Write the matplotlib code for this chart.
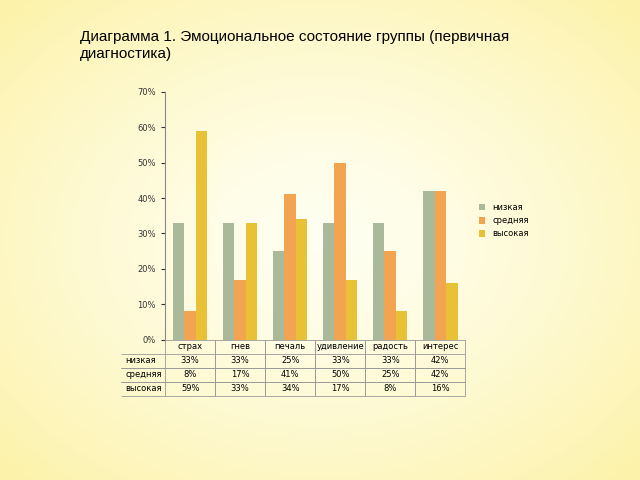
import matplotlib.pyplot as plt
import numpy as np

categories = ['страх', 'гнев', 'печаль', 'удивление', 'радость', 'интерес']
series = ['низкая', 'средняя', 'высокая']
low = [33, 33, 25, 33, 33, 42]
mid = [8, 17, 41, 50, 25, 42]
high = [59, 33, 34, 17, 8, 16]
colors = ['#a9b99a', '#f3a450', '#e8c136']

fig = plt.figure(figsize=(6.4, 4.8), dpi=100)

# pale yellow radial background
bg = fig.add_axes([0, 0, 1, 1])
yy, xx = np.mgrid[0:1:200j, 0:1:200j]
r = np.sqrt((xx - 0.5) ** 2 + (yy - 0.5) ** 2) / 0.707
c0 = np.array([1.0, 1.0, 0.95])
c1 = np.array([0.99, 0.95, 0.66])
img = c0 + (c1 - c0) * r[..., None] ** 1.3
bg.imshow(img, extent=[0, 1, 0, 1], aspect='auto')
bg.axis('off')

fig.text(0.125, 0.905, 'Диаграмма 1. Эмоциональное состояние группы (первичная\nдиагностика)',
         fontsize=11, family='Liberation Sans', va='center', linespacing=1.3)

ax = fig.add_axes([0.258, 0.292, 0.469, 0.517])
ax.set_facecolor('none')
x = np.arange(len(categories))
w = 0.23
for i, (vals, name) in enumerate(zip([low, mid, high], series)):
    ax.bar(x + (i - 1) * w, vals, w, color=colors[i], label=name)
ax.set_xlim(-0.5, len(categories) - 0.5)
ax.set_ylim(0, 70)
ax.set_yticks(range(0, 71, 10))
ax.set_yticklabels([f'{v}%' for v in range(0, 71, 10)], fontsize=6)
ax.set_xticks([])
for s in ['top', 'right', 'bottom']:
    ax.spines[s].set_visible(False)
ax.spines['left'].set_color('#888888')
ax.tick_params(axis='y', length=3, colors='#333333')

# data table below
cells = [[f'{v}%' for v in vals] for vals in [low, mid, high]]
tab = ax.table(cellText=cells, rowLabels=series, colLabels=categories,
               cellLoc='center', bbox=[0, -0.225, 1, 0.225])
tab.auto_set_font_size(False)
tab.set_fontsize(6)
for (rr, cc), cell in tab.get_celld().items():
    cell.set_edgecolor('#999999')
    cell.set_linewidth(0.6)
    cell.set_facecolor('none')
    if cc == -1:
        cell.visible_edges = 'TB'
    elif rr == 0:
        cell.visible_edges = 'TLR'
    else:
        cell.visible_edges = 'closed'

ax.legend(loc='center left', bbox_to_anchor=(1.02, 0.48), frameon=False,
          fontsize=6, handlelength=0.8, handleheight=0.8)

fig.savefig('out.png', dpi=100)
